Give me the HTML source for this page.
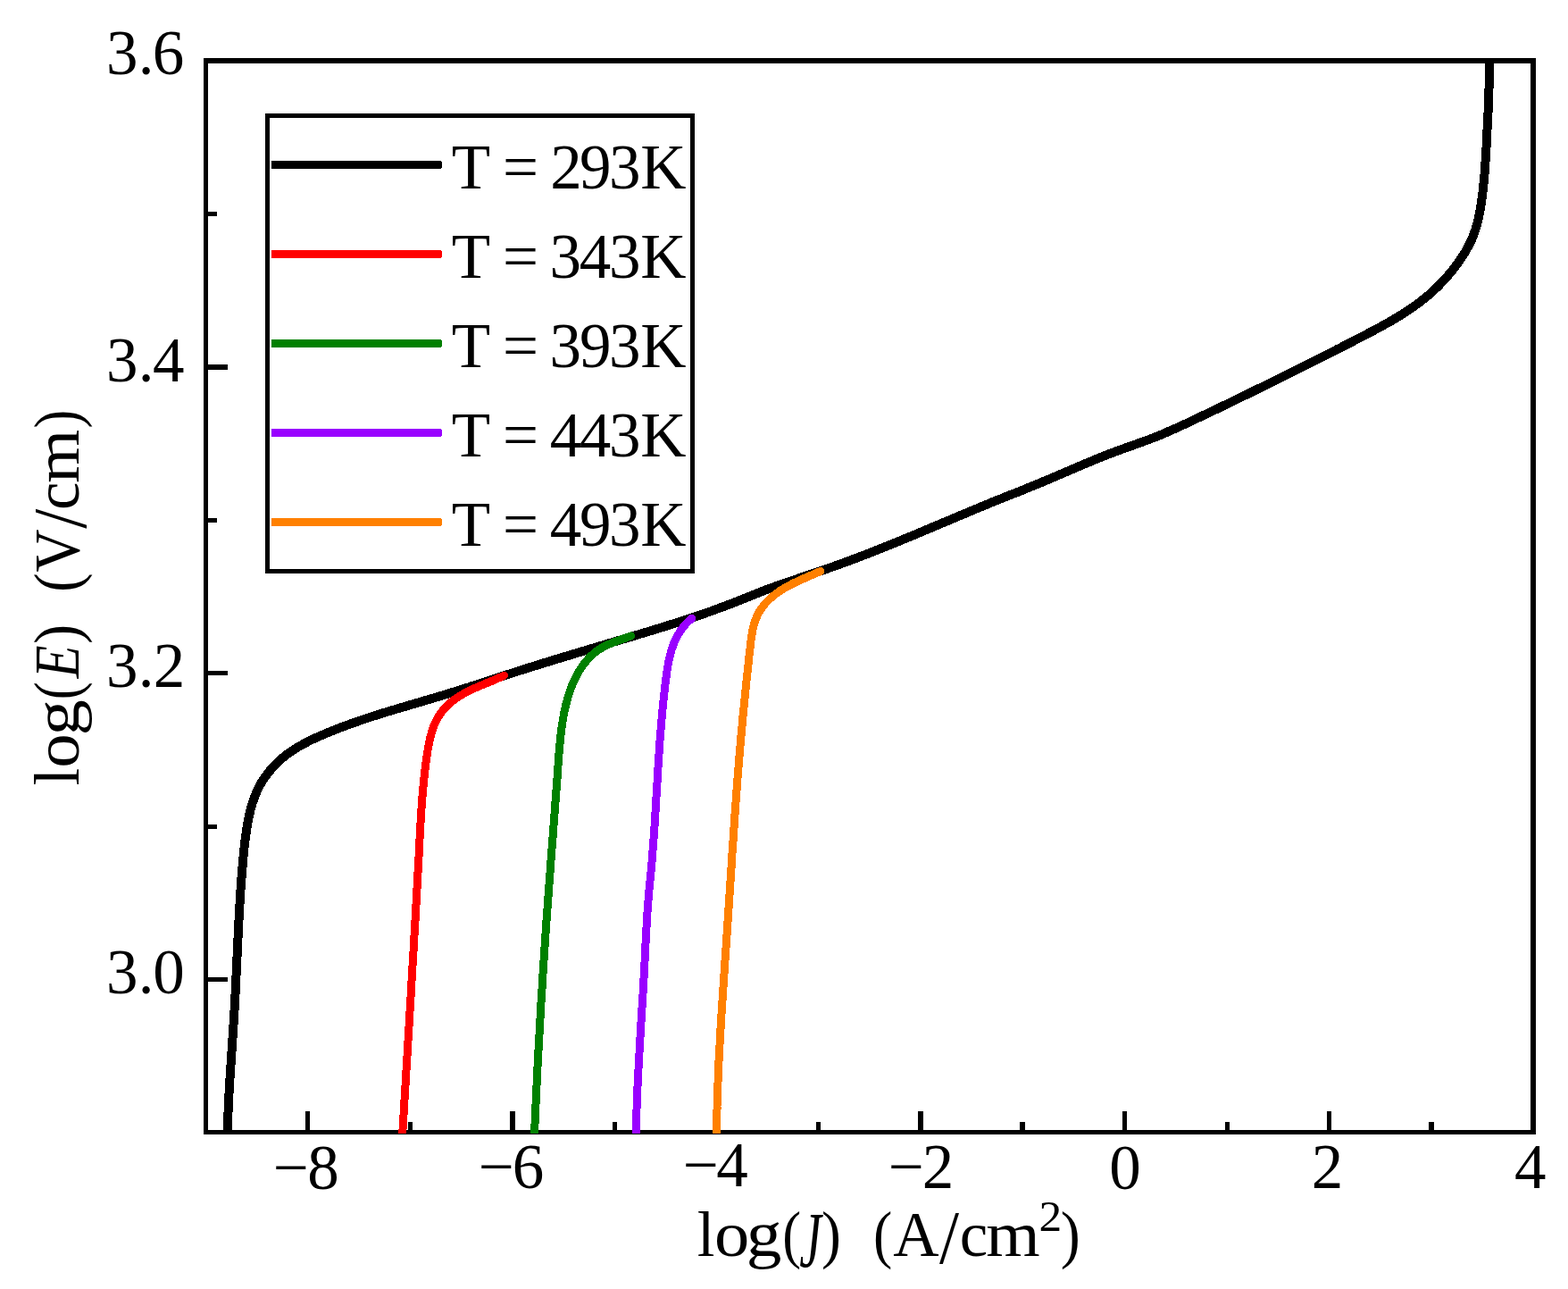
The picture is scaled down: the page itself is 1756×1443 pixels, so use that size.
<!DOCTYPE html>
<html lang="en"><head><meta charset="utf-8"><title>log(E) vs log(J)</title>
<style>html,body{margin:0;padding:0;background:#fff;overflow:hidden}svg{display:block}text{font-family:"Liberation Serif", serif;fill:#000;white-space:pre}</style></head><body>
<svg width="1756" height="1443" viewBox="0 0 1756 1443">
<rect width="1756" height="1443" fill="#fff"/>
<defs><clipPath id="c"><rect x="228" y="65" width="1492" height="1204"/></clipPath></defs>
<g fill="#000" shape-rendering="crispEdges">
<rect x="228" y="65" width="1492" height="6"/>
<rect x="228" y="1265" width="1492" height="5"/>
<rect x="228" y="65" width="5" height="1205"/>
<rect x="1714" y="65" width="6" height="1205"/>
<rect x="342" y="1244" width="5" height="22"/>
<rect x="457" y="1256" width="5" height="10"/>
<rect x="571" y="1244" width="6" height="22"/>
<rect x="686" y="1256" width="5" height="10"/>
<rect x="800" y="1244" width="5" height="22"/>
<rect x="914" y="1256" width="5" height="10"/>
<rect x="1028" y="1244" width="6" height="22"/>
<rect x="1142" y="1256" width="6" height="10"/>
<rect x="1257" y="1244" width="5" height="22"/>
<rect x="1372" y="1256" width="5" height="10"/>
<rect x="1486" y="1244" width="5" height="22"/>
<rect x="1600" y="1256" width="6" height="10"/>
<rect x="232" y="237" width="11" height="5"/>
<rect x="232" y="408" width="23" height="6"/>
<rect x="232" y="580" width="11" height="5"/>
<rect x="232" y="751" width="23" height="5"/>
<rect x="232" y="923" width="11" height="5"/>
<rect x="232" y="1094" width="23" height="5"/>
</g>
<g clip-path="url(#c)" fill="none" stroke-width="9" stroke-linejoin="round" stroke-linecap="round" shape-rendering="crispEdges">
<polyline points="254.6,1275.0 254.7,1272.0 254.7,1269.0 254.8,1266.0 254.9,1263.0 254.9,1260.0 255.0,1257.0 255.1,1254.0 255.2,1251.0 255.4,1248.0 255.5,1245.0 255.6,1242.0 255.7,1239.0 255.9,1236.0 256.0,1233.0 256.2,1230.0 256.4,1227.0 256.5,1224.0 256.7,1221.0 256.9,1218.0 257.0,1215.0 257.2,1212.0 257.4,1209.0 257.6,1206.0 257.8,1203.0 258.0,1200.0 258.2,1197.0 258.4,1194.0 258.6,1191.0 258.8,1188.0 259.0,1185.0 259.2,1182.0 259.4,1179.0 259.6,1176.0 259.8,1173.1 260.0,1170.1 260.2,1167.1 260.4,1164.1 260.6,1161.1 260.8,1158.1 261.0,1155.1 261.2,1152.1 261.4,1149.1 261.6,1146.1 261.8,1143.1 262.0,1140.1 262.2,1137.1 262.3,1134.1 262.5,1131.1 262.7,1128.1 262.8,1125.1 263.0,1122.1 263.2,1119.1 263.3,1116.1 263.5,1113.1 263.6,1110.1 263.8,1107.1 263.9,1104.1 264.1,1101.1 264.2,1098.1 264.4,1095.1 264.5,1092.1 264.6,1089.1 264.8,1086.1 264.9,1083.1 265.1,1080.1 265.2,1077.1 265.4,1074.1 265.5,1071.1 265.6,1068.1 265.8,1065.1 265.9,1062.1 266.1,1059.1 266.2,1056.1 266.3,1053.1 266.5,1050.1 266.6,1047.1 266.8,1044.1 266.9,1041.1 267.1,1038.1 267.2,1035.1 267.4,1032.1 267.6,1029.1 267.7,1026.1 267.9,1023.1 268.1,1020.1 268.2,1017.1 268.4,1014.1 268.6,1011.1 268.8,1008.1 269.0,1005.2 269.2,1002.2 269.3,999.2 269.5,996.2 269.8,993.2 270.0,990.2 270.2,987.2 270.4,984.2 270.6,981.2 270.9,978.2 271.1,975.2 271.4,972.3 271.6,969.3 271.9,966.3 272.2,963.3 272.4,960.3 272.7,957.3 273.0,954.3 273.3,951.3 273.6,948.3 274.0,945.3 274.3,942.3 274.7,939.3 275.1,936.3 275.5,933.3 275.9,930.4 276.3,927.4 276.8,924.4 277.3,921.5 277.9,918.5 278.5,915.6 279.1,912.6 279.8,909.7 280.5,906.8 281.3,903.9 282.1,901.0 283.0,898.1 284.0,895.3 285.0,892.5 286.1,889.7 287.2,887.0 288.4,884.2 289.8,881.6 291.2,878.9 292.6,876.3 294.2,873.8 295.8,871.2 297.6,868.8 299.4,866.4 301.2,864.0 303.2,861.7 305.2,859.4 307.2,857.2 309.3,855.1 311.5,853.0 313.7,850.9 316.0,848.9 318.3,847.0 320.7,845.1 323.1,843.3 325.5,841.6 328.0,839.9 330.5,838.3 333.1,836.7 335.7,835.2 338.3,833.7 340.9,832.3 343.6,830.9 346.2,829.5 348.9,828.2 351.6,826.9 354.4,825.7 357.1,824.5 359.8,823.2 362.6,822.1 365.4,820.9 368.1,819.7 370.9,818.6 373.7,817.5 376.5,816.4 379.3,815.3 382.1,814.2 384.9,813.2 387.7,812.1 390.6,811.1 393.4,810.1 396.2,809.1 399.1,808.1 401.9,807.1 404.7,806.1 407.6,805.2 410.4,804.2 413.3,803.3 416.2,802.3 419.0,801.4 421.9,800.5 424.7,799.6 427.6,798.7 430.5,797.8 433.3,796.9 436.2,796.0 439.1,795.2 442.0,794.3 444.8,793.4 447.7,792.6 450.6,791.7 453.5,790.9 456.3,790.0 459.2,789.2 462.1,788.3 465.0,787.5 467.9,786.7 470.8,785.8 473.6,785.0 476.5,784.1 479.4,783.3 482.3,782.4 485.2,781.6 488.0,780.7 490.9,779.9 493.8,779.0 496.7,778.1 499.5,777.3 502.4,776.4 505.3,775.5 508.1,774.6 511.0,773.7 513.9,772.8 516.7,771.9 519.6,771.0 522.4,770.1 525.3,769.2 528.2,768.2 531.0,767.3 533.9,766.4 536.7,765.5 539.6,764.5 542.4,763.6 545.3,762.7 548.1,761.7 551.0,760.8 553.8,759.8 556.7,758.9 559.5,758.0 562.4,757.0 565.2,756.1 568.1,755.2 571.0,754.3 573.8,753.4 576.7,752.4 579.5,751.5 582.4,750.6 585.3,749.7 588.1,748.8 591.0,747.9 593.8,747.0 596.7,746.1 599.6,745.2 602.4,744.3 605.3,743.4 608.2,742.5 611.0,741.7 613.9,740.8 616.8,739.9 619.7,739.0 622.5,738.1 625.4,737.3 628.3,736.4 631.1,735.5 634.0,734.6 636.9,733.8 639.8,732.9 642.6,732.0 645.5,731.2 648.4,730.3 651.3,729.4 654.1,728.6 657.0,727.7 659.9,726.8 662.8,726.0 665.6,725.1 668.5,724.3 671.4,723.4 674.3,722.5 677.2,721.7 680.0,720.8 682.9,719.9 685.8,719.1 688.7,718.2 691.5,717.4 694.4,716.5 697.3,715.6 700.2,714.8 703.1,713.9 705.9,713.1 708.8,712.2 711.7,711.3 714.6,710.5 717.4,709.6 720.3,708.7 723.2,707.9 726.1,707.0 728.9,706.1 731.8,705.2 734.7,704.3 737.5,703.5 740.4,702.6 743.3,701.7 746.1,700.8 749.0,699.9 751.9,699.0 754.7,698.1 757.6,697.2 760.5,696.3 763.3,695.3 766.2,694.4 769.0,693.5 771.9,692.5 774.7,691.6 777.6,690.6 780.4,689.7 783.3,688.7 786.1,687.7 788.9,686.8 791.8,685.8 794.6,684.8 797.4,683.8 800.2,682.7 803.1,681.7 805.9,680.7 808.7,679.6 811.5,678.6 814.3,677.5 817.1,676.5 819.9,675.4 822.7,674.3 825.5,673.2 828.3,672.1 831.1,671.0 833.9,669.8 836.7,668.7 839.4,667.6 842.2,666.5 845.0,665.4 847.8,664.3 850.6,663.2 853.4,662.1 856.2,661.0 859.0,659.9 861.8,658.9 864.6,657.8 867.5,656.8 870.3,655.8 873.1,654.8 875.9,653.8 878.8,652.8 881.6,651.8 884.5,650.9 887.3,649.9 890.1,648.9 893.0,648.0 895.8,647.0 898.7,646.0 901.5,645.1 904.4,644.1 907.2,643.2 910.1,642.2 912.9,641.3 915.8,640.3 918.6,639.3 921.4,638.3 924.3,637.4 927.1,636.4 929.9,635.4 932.8,634.4 935.6,633.4 938.4,632.4 941.3,631.3 944.1,630.3 946.9,629.3 949.7,628.2 952.5,627.2 955.3,626.1 958.1,625.1 960.9,624.0 963.8,622.9 966.6,621.8 969.4,620.8 972.2,619.7 975.0,618.6 977.7,617.5 980.5,616.4 983.3,615.3 986.1,614.2 988.9,613.1 991.7,611.9 994.5,610.8 997.3,609.7 1000.1,608.6 1002.8,607.4 1005.6,606.3 1008.4,605.2 1011.2,604.0 1014.0,602.9 1016.7,601.7 1019.5,600.6 1022.3,599.4 1025.1,598.3 1027.8,597.1 1030.6,596.0 1033.4,594.8 1036.1,593.6 1038.9,592.5 1041.7,591.3 1044.4,590.1 1047.2,589.0 1050.0,587.8 1052.8,586.6 1055.5,585.5 1058.3,584.3 1061.1,583.1 1063.8,582.0 1066.6,580.8 1069.4,579.6 1072.1,578.5 1074.9,577.3 1077.7,576.1 1080.4,575.0 1083.2,573.8 1086.0,572.7 1088.7,571.5 1091.5,570.3 1094.3,569.2 1097.0,568.0 1099.8,566.9 1102.6,565.7 1105.4,564.6 1108.1,563.5 1110.9,562.3 1113.7,561.2 1116.5,560.1 1119.3,559.0 1122.0,557.9 1124.8,556.7 1127.6,555.6 1130.4,554.5 1133.2,553.4 1136.0,552.3 1138.8,551.2 1141.6,550.1 1144.4,549.0 1147.1,547.9 1149.9,546.7 1152.7,545.6 1155.5,544.5 1158.3,543.3 1161.1,542.2 1163.8,541.0 1166.6,539.9 1169.4,538.7 1172.1,537.6 1174.9,536.4 1177.7,535.2 1180.4,534.0 1183.2,532.8 1186.0,531.7 1188.7,530.5 1191.5,529.3 1194.2,528.1 1197.0,526.9 1199.8,525.7 1202.5,524.5 1205.3,523.4 1208.1,522.2 1210.8,521.0 1213.6,519.8 1216.4,518.7 1219.1,517.5 1221.9,516.4 1224.7,515.2 1227.4,514.1 1230.2,513.0 1233.0,511.8 1235.8,510.7 1238.6,509.6 1241.4,508.5 1244.2,507.4 1247.0,506.4 1249.8,505.3 1252.6,504.3 1255.4,503.3 1258.3,502.2 1261.1,501.2 1263.9,500.2 1266.7,499.2 1269.6,498.2 1272.4,497.2 1275.2,496.2 1278.0,495.2 1280.8,494.1 1283.7,493.1 1286.5,492.1 1289.3,491.0 1292.1,489.9 1294.9,488.8 1297.7,487.7 1300.4,486.6 1303.2,485.4 1306.0,484.2 1308.7,483.0 1311.5,481.8 1314.2,480.6 1317.0,479.4 1319.7,478.1 1322.4,476.9 1325.2,475.6 1327.9,474.4 1330.6,473.1 1333.3,471.8 1336.1,470.5 1338.8,469.2 1341.5,467.9 1344.2,466.6 1346.9,465.3 1349.6,464.1 1352.3,462.8 1355.1,461.5 1357.8,460.2 1360.5,458.9 1363.2,457.6 1365.9,456.3 1368.6,455.0 1371.3,453.7 1374.0,452.4 1376.7,451.1 1379.4,449.8 1382.1,448.4 1384.8,447.1 1387.5,445.8 1390.2,444.5 1392.9,443.2 1395.6,441.9 1398.3,440.6 1401.0,439.3 1403.7,437.9 1406.4,436.6 1409.1,435.3 1411.8,434.0 1414.5,432.7 1417.2,431.3 1419.9,430.0 1422.5,428.7 1425.2,427.4 1427.9,426.0 1430.6,424.7 1433.3,423.4 1436.0,422.1 1438.7,420.7 1441.4,419.4 1444.0,418.1 1446.7,416.7 1449.4,415.4 1452.1,414.0 1454.8,412.7 1457.5,411.4 1460.2,410.0 1462.8,408.7 1465.5,407.3 1468.2,406.0 1470.9,404.6 1473.6,403.3 1476.3,401.9 1478.9,400.6 1481.6,399.2 1484.3,397.9 1487.0,396.5 1489.7,395.1 1492.3,393.8 1495.0,392.4 1497.7,391.0 1500.4,389.7 1503.1,388.3 1505.7,386.9 1508.4,385.6 1511.1,384.2 1513.8,382.8 1516.5,381.4 1519.1,380.1 1521.8,378.7 1524.5,377.3 1527.2,375.9 1529.8,374.5 1532.5,373.1 1535.2,371.7 1537.8,370.3 1540.5,368.9 1543.2,367.5 1545.8,366.0 1548.4,364.6 1551.1,363.1 1553.7,361.7 1556.3,360.2 1558.9,358.7 1561.5,357.1 1564.1,355.6 1566.6,354.0 1569.2,352.5 1571.7,350.9 1574.2,349.2 1576.7,347.6 1579.2,345.9 1581.6,344.2 1584.1,342.5 1586.5,340.8 1588.9,339.0 1591.3,337.2 1593.6,335.4 1595.9,333.5 1598.2,331.6 1600.5,329.7 1602.8,327.7 1605.0,325.7 1607.2,323.7 1609.4,321.6 1611.5,319.5 1613.6,317.3 1615.7,315.1 1617.7,312.9 1619.8,310.7 1621.7,308.4 1623.7,306.1 1625.6,303.7 1627.5,301.4 1629.3,299.0 1631.1,296.6 1632.9,294.1 1634.7,291.6 1636.3,289.1 1638.0,286.6 1639.6,284.1 1641.2,281.5 1642.7,278.9 1644.1,276.3 1645.5,273.6 1646.8,271.0 1648.1,268.3 1649.2,265.5 1650.3,262.7 1651.3,259.9 1652.3,257.1 1653.2,254.3 1654.0,251.4 1654.7,248.5 1655.4,245.6 1656.1,242.6 1656.7,239.7 1657.3,236.7 1657.8,233.8 1658.3,230.8 1658.8,227.8 1659.2,224.9 1659.6,221.9 1660.0,218.9 1660.4,215.9 1660.8,212.9 1661.1,209.9 1661.4,206.9 1661.7,204.0 1662.0,201.0 1662.3,198.0 1662.5,195.0 1662.8,192.0 1663.0,189.0 1663.2,186.0 1663.4,183.0 1663.6,180.0 1663.8,177.0 1664.0,174.0 1664.1,171.0 1664.3,168.0 1664.5,165.0 1664.6,162.0 1664.8,159.0 1665.0,156.0 1665.1,153.0 1665.3,150.0 1665.4,147.0 1665.6,144.0 1665.7,141.0 1665.9,138.0 1666.0,135.0 1666.2,132.0 1666.3,129.0 1666.5,126.0 1666.6,123.0 1666.7,120.0 1666.9,117.0 1667.0,114.0 1667.1,111.0 1667.2,108.0 1667.3,105.0 1667.4,102.0 1667.5,99.0 1667.6,96.0 1667.7,93.0 1667.8,90.0 1667.8,87.0 1667.9,84.0 1667.9,81.0 1668.0,78.0 1668.0,75.0 1668.0,72.0 1668.0,69.0 1668.0,66.0 1668.0,63.0 1668.0,60.0" stroke="#000000" stroke-width="10"/>
<polyline points="450.4,1275.0 450.6,1272.0 450.7,1269.0 450.9,1266.0 451.1,1263.0 451.3,1260.0 451.5,1257.1 451.6,1254.1 451.8,1251.1 452.0,1248.1 452.2,1245.1 452.4,1242.1 452.5,1239.1 452.7,1236.1 452.9,1233.1 453.1,1230.1 453.3,1227.1 453.4,1224.1 453.6,1221.1 453.8,1218.1 454.0,1215.1 454.2,1212.2 454.4,1209.2 454.5,1206.2 454.7,1203.2 454.9,1200.2 455.1,1197.2 455.3,1194.2 455.4,1191.2 455.6,1188.2 455.8,1185.2 456.0,1182.2 456.2,1179.2 456.3,1176.2 456.5,1173.2 456.7,1170.2 456.9,1167.2 457.1,1164.2 457.2,1161.2 457.4,1158.2 457.6,1155.2 457.8,1152.2 458.0,1149.2 458.2,1146.2 458.3,1143.2 458.5,1140.2 458.7,1137.2 458.9,1134.2 459.1,1131.2 459.2,1128.2 459.4,1125.2 459.6,1122.2 459.8,1119.2 460.0,1116.2 460.1,1113.2 460.3,1110.2 460.5,1107.2 460.7,1104.2 460.8,1101.2 461.0,1098.2 461.2,1095.2 461.4,1092.2 461.6,1089.2 461.7,1086.2 461.9,1083.2 462.1,1080.2 462.3,1077.2 462.4,1074.2 462.6,1071.2 462.8,1068.2 463.0,1065.2 463.2,1062.2 463.3,1059.2 463.5,1056.2 463.7,1053.2 463.8,1050.3 464.0,1047.3 464.2,1044.3 464.4,1041.3 464.5,1038.3 464.7,1035.3 464.9,1032.3 465.1,1029.3 465.2,1026.3 465.4,1023.3 465.6,1020.3 465.7,1017.3 465.9,1014.3 466.1,1011.3 466.3,1008.3 466.4,1005.3 466.6,1002.3 466.8,999.3 466.9,996.3 467.1,993.3 467.3,990.3 467.4,987.3 467.6,984.3 467.8,981.3 467.9,978.3 468.1,975.3 468.3,972.4 468.4,969.4 468.6,966.4 468.8,963.4 468.9,960.4 469.1,957.4 469.2,954.4 469.4,951.4 469.6,948.4 469.7,945.4 469.9,942.4 470.0,939.4 470.2,936.5 470.4,933.5 470.5,930.5 470.7,927.5 470.9,924.5 471.0,921.5 471.2,918.5 471.4,915.5 471.6,912.5 471.7,909.6 471.9,906.6 472.1,903.6 472.3,900.6 472.6,897.6 472.8,894.6 473.0,891.6 473.3,888.6 473.5,885.6 473.8,882.6 474.1,879.6 474.3,876.7 474.6,873.7 475.0,870.7 475.3,867.7 475.6,864.7 476.0,861.7 476.3,858.7 476.7,855.7 477.1,852.7 477.5,849.7 478.0,846.7 478.4,843.7 478.9,840.7 479.4,837.7 479.9,834.7 480.5,831.7 481.1,828.8 481.8,825.8 482.6,822.9 483.4,820.0 484.3,817.2 485.2,814.4 486.3,811.6 487.5,808.9 488.8,806.3 490.2,803.7 491.7,801.2 493.4,798.8 495.1,796.4 497.0,794.1 499.0,791.9 501.1,789.8 503.2,787.8 505.5,785.8 507.9,784.0 510.3,782.2 512.8,780.5 515.3,778.9 518.0,777.3 520.6,775.8 523.3,774.4 526.1,773.0 528.8,771.7 531.6,770.4 534.4,769.2 537.2,768.0 540.0,766.8 542.8,765.7 545.6,764.5 548.4,763.4 551.2,762.2 553.9,761.0 556.7,759.8 559.3,758.6 562.0,757.4 564.6,756.1" stroke="#ff0000"/>
<polyline points="598.3,1275.0 598.4,1272.0 598.5,1269.0 598.7,1266.0 598.8,1263.0 598.9,1260.0 599.1,1257.0 599.2,1254.0 599.3,1251.0 599.4,1248.0 599.6,1245.0 599.7,1242.0 599.9,1239.0 600.0,1236.0 600.1,1233.0 600.3,1230.0 600.4,1227.0 600.6,1224.0 600.7,1221.0 600.8,1218.0 601.0,1215.0 601.1,1212.0 601.3,1209.0 601.4,1206.0 601.6,1203.0 601.7,1200.0 601.9,1197.0 602.0,1194.0 602.2,1191.0 602.3,1188.0 602.5,1185.0 602.7,1182.0 602.8,1179.0 603.0,1176.0 603.1,1173.1 603.3,1170.1 603.5,1167.1 603.6,1164.1 603.8,1161.1 604.0,1158.1 604.1,1155.1 604.3,1152.1 604.5,1149.1 604.6,1146.1 604.8,1143.1 605.0,1140.1 605.2,1137.1 605.3,1134.1 605.5,1131.1 605.7,1128.1 605.9,1125.1 606.0,1122.1 606.2,1119.1 606.4,1116.1 606.6,1113.1 606.8,1110.1 607.0,1107.1 607.1,1104.1 607.3,1101.1 607.5,1098.1 607.7,1095.1 607.9,1092.2 608.1,1089.2 608.3,1086.2 608.5,1083.2 608.7,1080.2 608.9,1077.2 609.1,1074.2 609.3,1071.2 609.5,1068.2 609.7,1065.2 609.9,1062.2 610.1,1059.2 610.3,1056.2 610.5,1053.2 610.7,1050.2 610.9,1047.2 611.1,1044.2 611.3,1041.2 611.5,1038.2 611.7,1035.2 611.9,1032.3 612.1,1029.3 612.4,1026.3 612.6,1023.3 612.8,1020.3 613.0,1017.3 613.2,1014.3 613.4,1011.3 613.7,1008.3 613.9,1005.3 614.1,1002.3 614.3,999.3 614.5,996.3 614.8,993.3 615.0,990.3 615.2,987.3 615.4,984.4 615.7,981.4 615.9,978.4 616.1,975.4 616.3,972.4 616.6,969.4 616.8,966.4 617.0,963.4 617.2,960.4 617.5,957.4 617.7,954.4 617.9,951.4 618.2,948.4 618.4,945.4 618.6,942.5 618.8,939.5 619.1,936.5 619.3,933.5 619.5,930.5 619.8,927.5 620.0,924.5 620.2,921.5 620.4,918.5 620.7,915.5 620.9,912.5 621.1,909.5 621.4,906.5 621.6,903.6 621.8,900.6 622.0,897.6 622.3,894.6 622.5,891.6 622.7,888.6 622.9,885.6 623.2,882.6 623.4,879.6 623.6,876.6 623.8,873.6 624.1,870.6 624.3,867.7 624.5,864.7 624.7,861.7 624.9,858.7 625.1,855.7 625.4,852.7 625.6,849.7 625.8,846.7 626.0,843.7 626.3,840.7 626.5,837.8 626.8,834.8 627.1,831.8 627.3,828.8 627.6,825.8 628.0,822.8 628.3,819.9 628.7,816.9 629.1,813.9 629.5,811.0 630.0,808.0 630.5,805.0 631.0,802.1 631.5,799.1 632.1,796.2 632.8,793.3 633.4,790.3 634.2,787.4 634.9,784.5 635.7,781.5 636.6,778.6 637.5,775.8 638.5,772.9 639.5,770.1 640.6,767.2 641.8,764.5 643.0,761.7 644.3,759.0 645.7,756.3 647.1,753.7 648.6,751.1 650.2,748.6 651.9,746.1 653.6,743.7 655.5,741.3 657.4,739.1 659.4,736.8 661.5,734.7 663.7,732.7 666.0,730.7 668.3,728.9 670.8,727.2 673.3,725.6 675.9,724.1 678.6,722.8 681.4,721.5 684.2,720.3 687.0,719.1 689.8,718.0 692.6,716.9 695.4,715.9 698.3,714.9 701.1,713.9 703.9,712.9 706.7,711.9" stroke="#008000"/>
<polyline points="712.2,1275.0 712.2,1272.0 712.3,1269.0 712.3,1266.0 712.4,1263.0 712.5,1260.0 712.5,1257.0 712.6,1254.0 712.7,1251.0 712.8,1248.0 712.9,1244.9 713.0,1241.9 713.1,1238.9 713.2,1235.9 713.3,1232.9 713.4,1229.9 713.6,1226.9 713.7,1223.9 713.8,1220.9 713.9,1217.9 714.1,1214.9 714.2,1211.9 714.4,1208.9 714.5,1205.9 714.7,1202.9 714.8,1199.9 715.0,1196.9 715.1,1193.9 715.3,1190.9 715.5,1187.9 715.6,1184.9 715.8,1181.9 716.0,1178.9 716.1,1175.9 716.3,1172.9 716.5,1169.9 716.7,1166.9 716.9,1163.9 717.0,1160.9 717.2,1157.9 717.4,1154.9 717.6,1151.9 717.8,1148.9 717.9,1145.9 718.1,1142.9 718.3,1139.9 718.5,1136.9 718.7,1133.9 718.9,1130.9 719.0,1127.9 719.2,1124.9 719.4,1121.9 719.6,1118.9 719.8,1115.9 720.0,1112.9 720.1,1109.9 720.3,1106.9 720.5,1103.9 720.7,1100.9 720.8,1097.9 721.0,1094.9 721.2,1091.9 721.3,1088.9 721.5,1085.9 721.7,1082.9 721.8,1079.9 722.0,1076.9 722.1,1073.9 722.3,1070.9 722.4,1067.9 722.6,1064.9 722.7,1061.9 722.9,1058.9 723.0,1055.9 723.2,1052.9 723.3,1049.9 723.5,1046.9 723.7,1043.9 723.8,1040.9 724.0,1037.9 724.2,1034.9 724.3,1031.9 724.5,1028.9 724.7,1025.9 724.9,1022.9 725.1,1019.9 725.3,1016.9 725.5,1014.0 725.8,1011.0 726.0,1008.0 726.2,1005.0 726.5,1002.0 726.8,999.0 727.0,996.0 727.3,993.0 727.6,990.0 727.9,987.0 728.2,984.0 728.5,981.1 728.8,978.1 729.1,975.1 729.3,972.1 729.6,969.1 729.9,966.1 730.2,963.1 730.4,960.1 730.7,957.1 730.9,954.1 731.1,951.1 731.4,948.1 731.6,945.1 731.8,942.1 732.0,939.1 732.3,936.1 732.5,933.1 732.7,930.1 732.9,927.1 733.1,924.1 733.3,921.1 733.5,918.1 733.6,915.1 733.8,912.1 734.0,909.1 734.2,906.1 734.4,903.1 734.6,900.1 734.7,897.1 734.9,894.1 735.1,891.1 735.3,888.1 735.4,885.1 735.6,882.1 735.8,879.1 736.0,876.1 736.2,873.1 736.3,870.1 736.5,867.1 736.7,864.2 736.9,861.2 737.1,858.2 737.3,855.2 737.5,852.2 737.7,849.2 737.9,846.2 738.1,843.2 738.3,840.2 738.5,837.2 738.7,834.2 738.9,831.2 739.1,828.2 739.4,825.2 739.6,822.2 739.8,819.3 740.1,816.3 740.3,813.3 740.6,810.3 740.8,807.3 741.1,804.3 741.3,801.3 741.6,798.3 741.9,795.3 742.2,792.3 742.5,789.3 742.8,786.3 743.1,783.3 743.4,780.3 743.7,777.3 744.1,774.3 744.4,771.3 744.8,768.3 745.1,765.3 745.5,762.4 745.9,759.4 746.3,756.4 746.7,753.4 747.1,750.4 747.6,747.4 748.1,744.4 748.6,741.5 749.2,738.5 749.9,735.6 750.6,732.7 751.4,729.9 752.2,727.0 753.2,724.2 754.2,721.4 755.3,718.7 756.5,716.0 757.9,713.3 759.3,710.7 760.8,708.1 762.5,705.6 764.2,703.2 766.1,700.8 768.1,698.5 770.2,696.3 772.5,694.2 774.8,692.2" stroke="#9900ff"/>
<polyline points="802.4,1275.0 802.4,1272.0 802.5,1269.0 802.5,1266.0 802.5,1263.0 802.6,1259.9 802.6,1256.9 802.7,1253.9 802.8,1250.9 802.8,1247.9 802.9,1244.9 803.0,1241.9 803.0,1238.9 803.1,1235.9 803.2,1232.9 803.3,1229.9 803.4,1226.9 803.5,1223.9 803.6,1220.9 803.7,1217.9 803.8,1214.8 804.0,1211.8 804.1,1208.8 804.2,1205.8 804.3,1202.8 804.5,1199.8 804.6,1196.8 804.7,1193.8 804.9,1190.8 805.0,1187.8 805.2,1184.8 805.3,1181.8 805.5,1178.8 805.6,1175.8 805.8,1172.8 806.0,1169.8 806.1,1166.8 806.3,1163.8 806.5,1160.8 806.6,1157.8 806.8,1154.8 807.0,1151.8 807.2,1148.8 807.3,1145.8 807.5,1142.8 807.7,1139.8 807.9,1136.8 808.1,1133.8 808.3,1130.8 808.5,1127.8 808.7,1124.8 808.9,1121.8 809.1,1118.8 809.3,1115.8 809.5,1112.8 809.7,1109.8 809.9,1106.8 810.1,1103.8 810.3,1100.8 810.5,1097.8 810.7,1094.8 810.9,1091.8 811.1,1088.8 811.3,1085.8 811.5,1082.8 811.7,1079.8 811.9,1076.8 812.1,1073.8 812.3,1070.8 812.5,1067.8 812.7,1064.8 812.9,1061.8 813.2,1058.8 813.4,1055.8 813.6,1052.8 813.8,1049.8 814.0,1046.8 814.2,1043.8 814.4,1040.8 814.6,1037.8 814.8,1034.8 815.0,1031.8 815.2,1028.8 815.4,1025.8 815.6,1022.8 815.8,1019.8 816.0,1016.8 816.2,1013.8 816.4,1010.8 816.6,1007.8 816.8,1004.8 817.0,1001.8 817.2,998.8 817.4,995.8 817.6,992.8 817.8,989.7 818.0,986.7 818.2,983.7 818.4,980.7 818.6,977.7 818.8,974.7 819.0,971.7 819.2,968.7 819.4,965.7 819.6,962.7 819.8,959.7 819.9,956.7 820.1,953.7 820.3,950.7 820.6,947.7 820.8,944.7 821.0,941.7 821.2,938.7 821.4,935.7 821.6,932.7 821.8,929.7 822.0,926.7 822.2,923.7 822.4,920.7 822.6,917.7 822.8,914.7 823.0,911.7 823.2,908.7 823.5,905.7 823.7,902.7 823.9,899.7 824.1,896.7 824.3,893.7 824.5,890.7 824.8,887.7 825.0,884.7 825.2,881.7 825.5,878.7 825.7,875.7 825.9,872.7 826.1,869.7 826.4,866.7 826.6,863.7 826.9,860.7 827.1,857.8 827.3,854.8 827.6,851.8 827.8,848.8 828.1,845.8 828.3,842.8 828.6,839.8 828.9,836.8 829.1,833.8 829.4,830.8 829.7,827.8 829.9,824.8 830.2,821.9 830.5,818.9 830.7,815.9 831.0,812.9 831.3,809.9 831.6,806.9 831.8,803.9 832.1,800.9 832.4,797.9 832.7,794.9 833.0,792.0 833.3,789.0 833.6,786.0 833.9,783.0 834.2,780.0 834.5,777.0 834.8,774.0 835.1,771.0 835.4,768.0 835.7,765.0 836.0,762.0 836.3,759.0 836.7,756.0 837.0,753.0 837.3,750.0 837.6,747.0 838.0,744.0 838.3,741.0 838.6,738.0 838.9,735.0 839.3,732.0 839.6,729.0 840.0,726.0 840.3,723.0 840.6,720.0 841.0,717.0 841.4,714.0 841.9,711.0 842.4,708.0 842.9,705.1 843.6,702.2 844.3,699.3 845.2,696.4 846.2,693.6 847.3,690.9 848.5,688.2 849.9,685.6 851.4,683.0 853.1,680.6 854.9,678.2 856.8,675.9 858.8,673.7 860.9,671.6 863.1,669.5 865.4,667.6 867.8,665.7 870.2,663.8 872.7,662.1 875.3,660.4 877.9,658.8 880.5,657.3 883.1,655.8 885.8,654.4 888.5,653.0 891.2,651.7 893.9,650.4 896.6,649.2 899.4,648.0 902.1,646.8 904.9,645.6 907.6,644.4 910.4,643.2 913.1,642.0 915.9,640.8 918.6,639.5" stroke="#ff8000"/>
</g>
<rect x="299.5" y="129.5" width="476" height="510" fill="none" stroke="#000" stroke-width="5" shape-rendering="crispEdges"/>
<g shape-rendering="crispEdges">
<rect x="303.5" y="180" width="191.3" height="9" rx="1.6" fill="#000000"/>
<rect x="303.5" y="280" width="191.3" height="9" rx="1.6" fill="#ff0000"/>
<rect x="303.5" y="380" width="191.3" height="9" rx="1.6" fill="#008000"/>
<rect x="303.5" y="480" width="191.3" height="9" rx="1.6" fill="#9900ff"/>
<rect x="303.5" y="580" width="191.3" height="9" rx="1.6" fill="#ff8000"/>
</g>
<text y="211" font-size="71"><tspan x="505.86">T</tspan><tspan x="549.23"> </tspan><tspan x="562.94">=</tspan><tspan x="602.99"> </tspan><tspan x="616.25">2</tspan><tspan x="649.11">9</tspan><tspan x="681.99">3</tspan><tspan x="717.15">K</tspan></text>
<text y="311" font-size="71"><tspan x="505.86">T</tspan><tspan x="549.23"> </tspan><tspan x="562.94">=</tspan><tspan x="602.99"> </tspan><tspan x="615.54">3</tspan><tspan x="648.66">4</tspan><tspan x="681.99">3</tspan><tspan x="717.15">K</tspan></text>
<text y="411" font-size="71"><tspan x="505.86">T</tspan><tspan x="549.23"> </tspan><tspan x="562.94">=</tspan><tspan x="602.99"> </tspan><tspan x="615.54">3</tspan><tspan x="649.11">9</tspan><tspan x="681.99">3</tspan><tspan x="717.15">K</tspan></text>
<text y="511" font-size="71"><tspan x="505.86">T</tspan><tspan x="549.23"> </tspan><tspan x="562.94">=</tspan><tspan x="602.99"> </tspan><tspan x="615.71">4</tspan><tspan x="648.66">4</tspan><tspan x="681.99">3</tspan><tspan x="717.15">K</tspan></text>
<text y="611" font-size="71"><tspan x="505.86">T</tspan><tspan x="549.23"> </tspan><tspan x="562.94">=</tspan><tspan x="602.99"> </tspan><tspan x="615.71">4</tspan><tspan x="649.11">9</tspan><tspan x="681.99">3</tspan><tspan x="717.15">K</tspan></text>
<text y="83" font-size="71"><tspan x="119.04">3</tspan><tspan x="154.68">.</tspan><tspan x="170.78">6</tspan></text>
<text y="427" font-size="71"><tspan x="119.04">3</tspan><tspan x="154.68">.</tspan><tspan x="171.11">4</tspan></text>
<text y="769" font-size="71"><tspan x="119.04">3</tspan><tspan x="154.68">.</tspan><tspan x="171.65">2</tspan></text>
<text y="1112" font-size="71"><tspan x="119.04">3</tspan><tspan x="154.68">.</tspan><tspan x="171.25">0</tspan></text>
<text y="1330.5" font-size="71"><tspan x="305.39">−</tspan><tspan x="344.25">8</tspan></text>
<text y="1330" font-size="71"><tspan x="535.39">−</tspan><tspan x="573.83">6</tspan></text>
<text y="1328" font-size="71"><tspan x="764.44">−</tspan><tspan x="802.16">4</tspan></text>
<text y="1330" font-size="71"><tspan x="994.44">−</tspan><tspan x="1032.70">2</tspan></text>
<text y="1330.5" font-size="71"><tspan x="1242.25">0</tspan></text>
<text y="1330" font-size="71"><tspan x="1468.70">2</tspan></text>
<text y="1330" font-size="71"><tspan x="1696.11">4</tspan></text>
<text y="1406" font-size="71"><tspan x="780.69">l</tspan><tspan x="800.01" textLength="39.28" lengthAdjust="spacingAndGlyphs">o</tspan><tspan x="835.69" textLength="39.73" lengthAdjust="spacingAndGlyphs">g</tspan><tspan x="876.25" textLength="20.87" lengthAdjust="spacingAndGlyphs">(</tspan><tspan x="895.17" textLength="24.48" lengthAdjust="spacingAndGlyphs" font-style="italic" font-size="88.0" dy="12.0">J</tspan><tspan x="919.98" textLength="21.91" lengthAdjust="spacingAndGlyphs" dy="-12.0">)</tspan><tspan x="941.89"> </tspan><tspan x="941.89"> </tspan><tspan x="977.89" textLength="21.26" lengthAdjust="spacingAndGlyphs">(</tspan><tspan x="1000.23">A</tspan><tspan x="1051.90" textLength="22.00" lengthAdjust="spacingAndGlyphs" font-size="85.0" dy="8.0">/</tspan><tspan x="1074.83" dy="-8.0">c</tspan><tspan x="1104.37" textLength="60.45" lengthAdjust="spacingAndGlyphs">m</tspan><tspan x="1163.54" textLength="25.69" lengthAdjust="spacingAndGlyphs" font-size="48.8" dy="-27.7">2</tspan><tspan x="1187.87" textLength="22.04" lengthAdjust="spacingAndGlyphs" dy="27.7">)</tspan></text>
<text transform="translate(88,878) rotate(-90)" font-size="71"><tspan x="-1.41">l</tspan><tspan x="18.27" textLength="38.46" lengthAdjust="spacingAndGlyphs">o</tspan><tspan x="54.44" textLength="40.30" lengthAdjust="spacingAndGlyphs">g</tspan><tspan x="94.77" textLength="19.97" lengthAdjust="spacingAndGlyphs">(</tspan><tspan x="118.81" textLength="36.87" lengthAdjust="spacingAndGlyphs" font-style="italic">E</tspan><tspan x="157.19" textLength="21.78" lengthAdjust="spacingAndGlyphs">)</tspan><tspan x="178.97"> </tspan><tspan x="178.97"> </tspan><tspan x="215.18" textLength="21.39" lengthAdjust="spacingAndGlyphs">(</tspan><tspan x="237.55" textLength="47.99" lengthAdjust="spacingAndGlyphs">V</tspan><tspan x="286.30" textLength="22.10" lengthAdjust="spacingAndGlyphs" font-size="85.0" dy="8.0">/</tspan><tspan x="306.93" dy="-8.0">c</tspan><tspan x="337.28" textLength="60.03" lengthAdjust="spacingAndGlyphs">m</tspan><tspan x="398.58" textLength="20.87" lengthAdjust="spacingAndGlyphs">)</tspan></text>
</svg></body></html>
